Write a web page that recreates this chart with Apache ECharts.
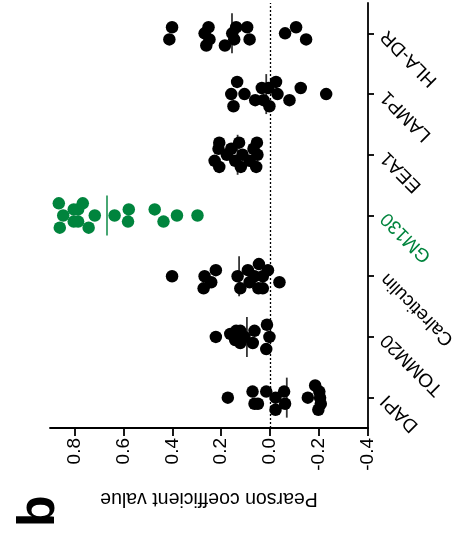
<!DOCTYPE html>
<html>
<head>
<meta charset="utf-8">
<script src="https://cdn.jsdelivr.net/npm/echarts@6/dist/echarts.min.js"></script>
<style>
html,body{margin:0;padding:0;background:#fff;}
#chart{width:474px;height:537px;}
</style>
</head>
<body>
<div id="chart"></div>
<script>
const categories = ['DAPI', 'TOMM20', 'Calreticulin', 'GM130', 'EEA1', 'LAMP1', 'HLA-DR'];
const tickValues = [-0.4, -0.2, 0, 0.2, 0.4, 0.6, 0.8];

const dapiValues = [0.173, 0.072, 0.064, 0.050, 0.016, -0.022, -0.022, -0.057, -0.061, -0.154, -0.184, -0.201, -0.204, -0.207, -0.197];
const dapiJitter = [0, 0.1, -0.1, -0.1, 0.1, 0, -0.2, 0.1, -0.1, 0, 0.2, 0.1, 0, -0.1, -0.2];

const tomm20Values = [0.222, 0.163, 0.139, 0.122, 0.143, 0.122, 0.105, 0.110, 0.071, 0.064, 0.013, 0.003, 0.016];
const tomm20Jitter = [0, 0.05, 0.1, 0.1, -0.05, -0.1, 0, 0, -0.1, 0.1, 0.2, 0, -0.2];

const calreticulinValues = [0.401, 0.268, 0.272, 0.241, 0.222, 0.133, 0.122, 0.091, 0.084, 0.064, 0.046, 0.030, 0.009, 0.048, 0.030, -0.038];
const calreticulinJitter = [0, 0, -0.2, -0.1, 0.1, 0, -0.2, 0.1, -0.1, 0, 0.2, 0, 0.1, -0.2, -0.2, -0.1];

const gm130Values = [0.864, 0.846, 0.860, 0.803, 0.785, 0.766, 0.803, 0.785, 0.742, 0.717, 0.636, 0.578, 0.581, 0.472, 0.436, 0.381, 0.297];
const gm130Jitter = [0.2, 0, -0.2, 0.1, 0.1, 0.2, -0.1, -0.1, -0.2, 0, 0, 0.1, -0.1, 0.1, -0.1, 0, 0];

const eea1Values = [0.208, 0.211, 0.227, 0.208, 0.159, 0.177, 0.127, 0.113, 0.143, 0.120, 0.084, 0.054, 0.068, 0.052, 0.057];
const eea1Jitter = [0.2, 0.1, -0.1, -0.2, 0.1, 0, 0.2, 0, -0.1, -0.2, -0.1, 0.2, 0.1, 0, -0.2];

const lamp1Values = [0.135, -0.024, 0.159, 0.105, 0.034, 0.007, 0.150, 0.061, 0.027, 0.003, -0.030, -0.079, -0.125, -0.229];
const lamp1Jitter = [0.2, 0.2, 0, 0, 0.1, 0.1, -0.2, -0.1, -0.1, -0.2, 0, -0.1, 0.1, 0];

const hladrValues = [0.401, 0.412, 0.252, 0.268, 0.248, 0.261, 0.185, 0.139, 0.155, 0.147, 0.094, 0.084, -0.061, -0.106, -0.147];
const hladrJitter = [0.1, -0.1, 0.1, 0, -0.1, -0.2, -0.2, 0.1, 0, -0.1, 0.1, -0.1, 0, 0.1, -0.1];

const centerValues = [-0.068, 0.095, 0.127, 0.667, 0.133, 0.016, 0.156];

const allValues = [dapiValues, tomm20Values, calreticulinValues, gm130Values, eea1Values, lamp1Values, hladrValues];
const allJitter = [dapiJitter, tomm20Jitter, calreticulinJitter, gm130Jitter, eea1Jitter, lamp1Jitter, hladrJitter];

const GREEN = '#00843D';
const FONT = '"Liberation Sans", Arial, sans-serif';
const colorOf = (i) => categories[i] === 'GM130' ? GREEN : '#000';

const series = [];
allValues.forEach((vals, i) => {
  series.push({
    type: 'scatter',
    xAxisIndex: 0,
    yAxisIndex: 1,
    symbol: 'circle',
    symbolSize: 12.5,
    itemStyle: { color: colorOf(i), opacity: 1 },
    z: 3,
    silent: true,
    data: vals.map((v, k) => [v, i + allJitter[i][k]])
  });
});
series.push({
  type: 'scatter',
  xAxisIndex: 0,
  yAxisIndex: 1,
  symbol: 'rect',
  symbolSize: [1.8, 40],
  z: 4,
  silent: true,
  data: centerValues.map((v, i) => ({ value: [v, i], itemStyle: { color: colorOf(i) } }))
});
series.push({
  type: 'scatter',
  xAxisIndex: 0,
  yAxisIndex: 1,
  data: [],
  z: 1,
  markLine: {
    silent: true,
    symbol: 'none',
    label: { show: false },
    lineStyle: { color: '#000', type: [2, 2], width: 1.3 },
    data: [{ xAxis: 0 }]
  }
});

const chart = echarts.init(document.getElementById('chart'), null, { renderer: 'canvas' });
chart.setOption({
  animation: false,
  backgroundColor: '#fff',
  textStyle: { fontFamily: FONT },
  grid: { left: 50, right: 106, top: 3, bottom: 109, containLabel: false },
  xAxis: {
    type: 'value',
    inverse: true,
    min: -0.4,
    max: 0.9,
    interval: 0.2,
    position: 'bottom',
    splitLine: { show: false },
    axisLine: { show: true, onZero: false, lineStyle: { color: '#000', width: 1.8 } },
    axisTick: { show: true, length: 8, customValues: tickValues, lineStyle: { color: '#000', width: 1.8 } },
    axisLabel: {
      customValues: tickValues,
      rotate: 90,
      margin: 10,
      fontSize: 19,
      color: '#000',
      fontFamily: FONT,
      formatter: (v) => Number(v).toFixed(1)
    },
    name: 'Pearson coefficient value',
    nameLocation: 'middle',
    nameGap: 60,
    nameRotate: 180,
    nameTextStyle: { fontSize: 19.5, color: '#000', fontFamily: FONT }
  },
  yAxis: [
    {
      type: 'category',
      data: categories,
      position: 'right',
      boundaryGap: true,
      axisLine: { show: true, onZero: false, lineStyle: { color: '#000', width: 1.8 } },
      axisTick: { show: true, alignWithLabel: true, length: 6, lineStyle: { color: '#000', width: 1.8 } },
      axisLabel: {
        rotate: 135,
        margin: 16,
        fontSize: 19,
        fontFamily: FONT,
        color: (value) => value === 'GM130' ? GREEN : '#000'
      },
      splitLine: { show: false }
    },
    {
      type: 'value',
      position: 'right',
      min: -0.5,
      max: 6.5,
      show: false,
      axisLine: { show: false, onZero: false },
      splitLine: { show: false }
    }
  ],
  graphic: [
    {
      type: 'text',
      x: 40,
      y: 511,
      rotation: Math.PI / 2,
      style: {
        text: 'b',
        fontSize: 52,
        fontWeight: 'bold',
        fontFamily: FONT,
        fill: '#000',
        align: 'center',
        verticalAlign: 'middle'
      }
    }
  ],
  series: series
});
</script>
</body>
</html>
